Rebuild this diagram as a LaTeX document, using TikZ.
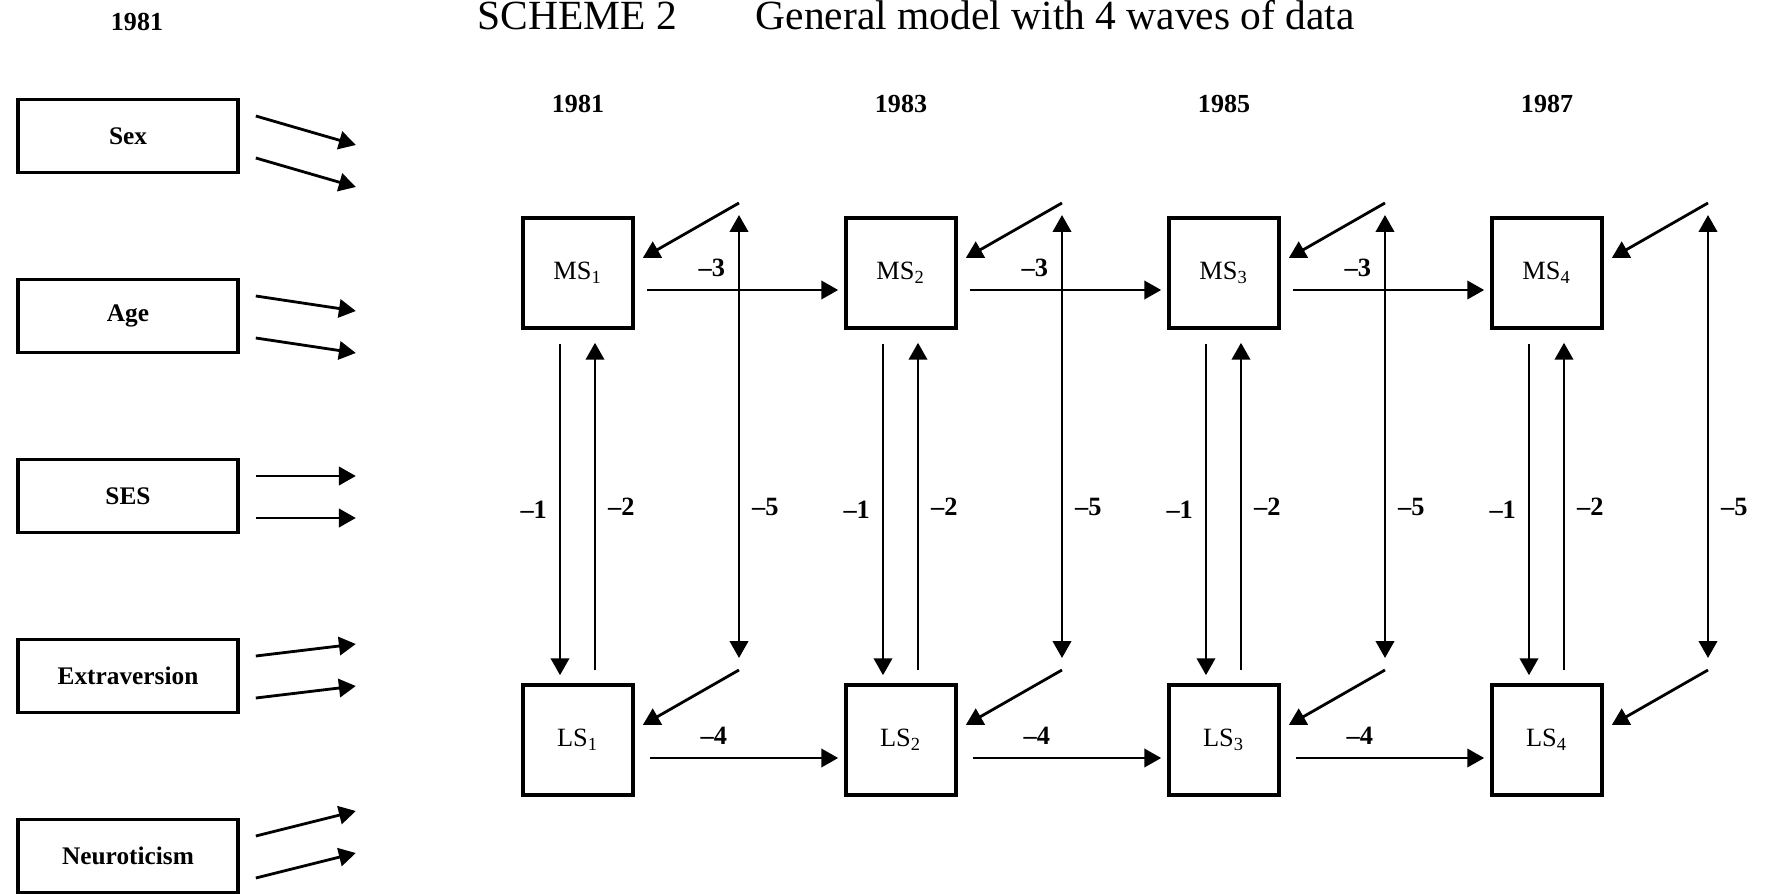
\documentclass[tikz,border=0pt]{standalone}
\usepackage{fontspec}
\setmainfont{Liberation Serif}
\usetikzlibrary{arrows.meta,calc}
\begin{document}
\begin{tikzpicture}[x=0.01cm, y=0.01cm, font=\fontsize{7.5}{9}\selectfont,
  >={Triangle[length=4.8pt,width=5.2pt]},
  box/.style={draw, line width=1pt, minimum width=2.2cm, minimum height=0.73cm,
    font=\fontsize{7.2}{9}\selectfont\bfseries},
  var/.style={draw, line width=1pt, minimum size=1.1cm},
  arr/.style={line width=0.8pt, ->},
  coef/.style={font=\fontsize{7.5}{9}\selectfont\bfseries},
  year/.style={font=\fontsize{7.4}{9}\selectfont\bfseries}]
  \useasboundingbox (0,0) rectangle (1766,893);
  % heading
  \node[anchor=base west, inner sep=0, font=\fontsize{11.8}{14}\selectfont] (scheme) at (477,863) {SCHEME 2};
  \node[anchor=base west, inner sep=0, font=\fontsize{11.8}{14}\selectfont] (title) at (755,863) {General model with 4 waves of data};
  \node[year] (yr0) at (137,871) {1981};
  % background variables
  \foreach \name/\txt/\y/\slope in {sex/Sex/757/-29, age/Age/577/-15, ses/SES/397/0,
      extra/Extraversion/217/12, neuro/Neuroticism/37/25} {
    \node[box] (\name) at (128,\y) {\txt};
    \draw[arr] ($(\name.east)+(16,20)$) -- ++(100,\slope);
    \draw[arr] ($(\name.east)+(16,-22)$) -- ++(100,\slope);
  }
  % the four waves
  \foreach \i/\yr/\x in {1/1981/578, 2/1983/901, 3/1985/1224, 4/1987/1547} {
    \node[var] (MS\i) at (\x,620) {MS\textsubscript{\i}};
    \node[var] (LS\i) at (\x,153) {LS\textsubscript{\i}};
    \node[year] (yr\i) at (\x,789) {\yr};
    \coordinate (dMS\i) at ($(MS\i)+(161,70)$);
    \coordinate (dLS\i) at ($(LS\i)+(161,70)$);
    \draw[arr] ($(MS\i.south)+(-18,-14)$) -- node[coef, left] {--1} ($(LS\i.north)+(-18,8)$);
    \draw[arr] ($(LS\i.north)+(17,13)$) -- node[coef, right] {--2} ($(MS\i.south)+(17,-13)$);
    % disturbances and their covariance
    \draw[arr] (dMS\i) -- ($(MS\i.east)+(8,15)$);
    \draw[arr] (dLS\i) -- ($(LS\i.east)+(8,15)$);
    \draw[arr, <->] ($(dMS\i)+(0,-12)$) -- node[coef, right, pos=0.66] {--5} ($(dLS\i)+(0,12)$);
  }
  % stability paths
  \foreach \i/\j in {1/2, 2/3, 3/4} {
    \draw[arr] ($(MS\i.east)+(12,-17)$) -- node[coef, above, pos=0.34] {--3} ($(MS\j.west)+(-6,-17)$);
    \draw[arr] ($(LS\i.east)+(15,-18)$) -- node[coef, above, pos=0.34] {--4} ($(LS\j.west)+(-6,-18)$);
  }
\end{tikzpicture}
\end{document}
